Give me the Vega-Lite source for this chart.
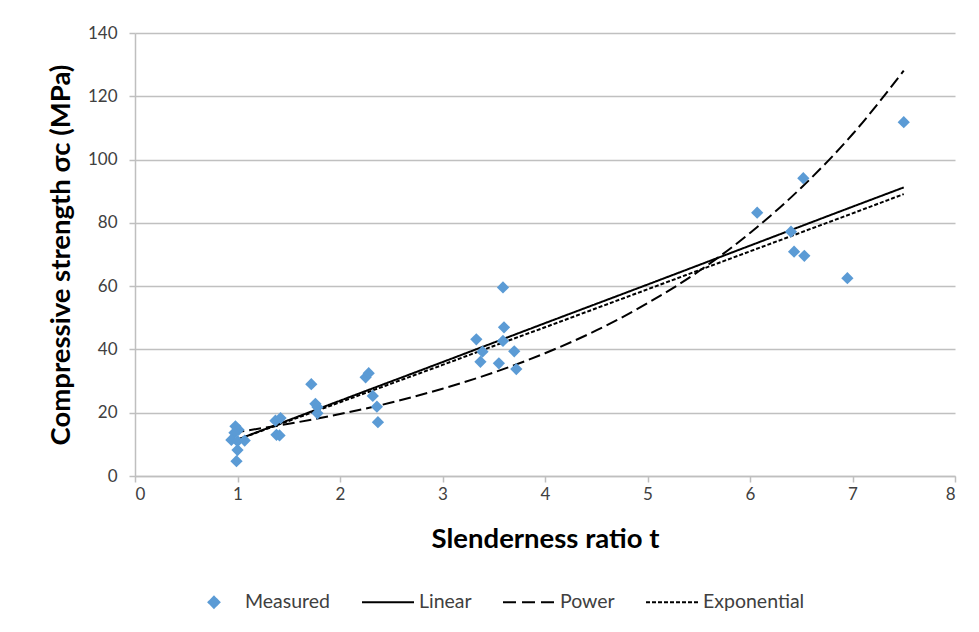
{
  "$schema": "https://vega.github.io/schema/vega-lite/v6.json",
  "autosize": {"type": "none"},
  "width": 820,
  "height": 443,
  "padding": {"left": 135, "top": 33, "right": 24, "bottom": 156},
  "background": "white",
  "config": {
    "font": "Lato",
    "view": {"stroke": null},
    "axis": {
      "labelFont": "Lato",
      "labelFontSize": 17,
      "labelColor": "#404040",
      "labelOverlap": false,
      "titleFont": "Lato",
      "titleFontSize": 27.5,
      "titleFontWeight": "bold",
      "titleColor": "#000000",
      "domainColor": "#bfbfbf",
      "domainWidth": 1.5,
      "tickColor": "#bfbfbf",
      "tickWidth": 1.5,
      "tickSize": 6,
      "gridColor": "#c0c0c0",
      "gridWidth": 1.5
    },
    "legend": {
      "labelFont": "Lato",
      "labelFontSize": 19.5,
      "labelColor": "#404040"
    }
  },
  "datasets": {
    "measured": [
      {"t": 0.98, "sigma": 15.7, "series": "Measured"},
      {"t": 1.01, "sigma": 14.6, "series": "Measured"},
      {"t": 0.97, "sigma": 13.7, "series": "Measured"},
      {"t": 0.94, "sigma": 11.4, "series": "Measured"},
      {"t": 1.0, "sigma": 11.0, "series": "Measured"},
      {"t": 1.07, "sigma": 11.2, "series": "Measured"},
      {"t": 1.0, "sigma": 8.2, "series": "Measured"},
      {"t": 0.99, "sigma": 4.7, "series": "Measured"},
      {"t": 1.37, "sigma": 17.5, "series": "Measured"},
      {"t": 1.42, "sigma": 18.3, "series": "Measured"},
      {"t": 1.38, "sigma": 13.0, "series": "Measured"},
      {"t": 1.41, "sigma": 12.8, "series": "Measured"},
      {"t": 1.72, "sigma": 29.0, "series": "Measured"},
      {"t": 1.76, "sigma": 22.8, "series": "Measured"},
      {"t": 1.78, "sigma": 21.8, "series": "Measured"},
      {"t": 1.78, "sigma": 19.8, "series": "Measured"},
      {"t": 2.25, "sigma": 31.2, "series": "Measured"},
      {"t": 2.28, "sigma": 32.5, "series": "Measured"},
      {"t": 2.32, "sigma": 25.3, "series": "Measured"},
      {"t": 2.36, "sigma": 21.9, "series": "Measured"},
      {"t": 2.37, "sigma": 17.0, "series": "Measured"},
      {"t": 3.33, "sigma": 43.2, "series": "Measured"},
      {"t": 3.37, "sigma": 36.1, "series": "Measured"},
      {"t": 3.39, "sigma": 39.3, "series": "Measured"},
      {"t": 3.55, "sigma": 35.6, "series": "Measured"},
      {"t": 3.59, "sigma": 59.6, "series": "Measured"},
      {"t": 3.6, "sigma": 47.0, "series": "Measured"},
      {"t": 3.59, "sigma": 42.7, "series": "Measured"},
      {"t": 3.7, "sigma": 39.4, "series": "Measured"},
      {"t": 3.72, "sigma": 33.8, "series": "Measured"},
      {"t": 6.07, "sigma": 83.2, "series": "Measured"},
      {"t": 6.4, "sigma": 77.2, "series": "Measured"},
      {"t": 6.43, "sigma": 70.9, "series": "Measured"},
      {"t": 6.52, "sigma": 94.1, "series": "Measured"},
      {"t": 6.53, "sigma": 69.6, "series": "Measured"},
      {"t": 6.95, "sigma": 62.5, "series": "Measured"},
      {"t": 7.5, "sigma": 111.8, "series": "Measured"}
    ],
    "fits": [
      {"t": 0.95, "sigma": 10.9, "series": "Linear"},
      {"t": 2, "sigma": 23.8, "series": "Linear"},
      {"t": 3, "sigma": 36.0, "series": "Linear"},
      {"t": 4, "sigma": 48.3, "series": "Linear"},
      {"t": 5, "sigma": 60.5, "series": "Linear"},
      {"t": 6, "sigma": 72.8, "series": "Linear"},
      {"t": 7, "sigma": 85.1, "series": "Linear"},
      {"t": 7.5, "sigma": 91.2, "series": "Linear"},
      {"t": 0.95, "sigma": 13.7, "series": "Power"},
      {"t": 1.5, "sigma": 16.5, "series": "Power"},
      {"t": 2, "sigma": 19.6, "series": "Power"},
      {"t": 2.5, "sigma": 23.2, "series": "Power"},
      {"t": 3, "sigma": 27.6, "series": "Power"},
      {"t": 3.5, "sigma": 32.7, "series": "Power"},
      {"t": 4, "sigma": 38.8, "series": "Power"},
      {"t": 4.5, "sigma": 46.0, "series": "Power"},
      {"t": 5, "sigma": 54.6, "series": "Power"},
      {"t": 5.5, "sigma": 64.7, "series": "Power"},
      {"t": 6, "sigma": 76.8, "series": "Power"},
      {"t": 6.5, "sigma": 91.1, "series": "Power"},
      {"t": 7, "sigma": 108.0, "series": "Power"},
      {"t": 7.5, "sigma": 128.1, "series": "Power"},
      {"t": 0.95, "sigma": 10.9, "series": "Exponential"},
      {"t": 1.5, "sigma": 17.4, "series": "Exponential"},
      {"t": 2, "sigma": 23.3, "series": "Exponential"},
      {"t": 2.5, "sigma": 29.2, "series": "Exponential"},
      {"t": 3, "sigma": 35.1, "series": "Exponential"},
      {"t": 3.5, "sigma": 41.1, "series": "Exponential"},
      {"t": 4, "sigma": 47.0, "series": "Exponential"},
      {"t": 4.5, "sigma": 53.0, "series": "Exponential"},
      {"t": 5, "sigma": 59.0, "series": "Exponential"},
      {"t": 5.5, "sigma": 65.0, "series": "Exponential"},
      {"t": 6, "sigma": 71.0, "series": "Exponential"},
      {"t": 6.5, "sigma": 77.0, "series": "Exponential"},
      {"t": 7, "sigma": 83.0, "series": "Exponential"},
      {"t": 7.5, "sigma": 89.1, "series": "Exponential"}
    ]
  },
  "encoding": {
    "x": {
      "field": "t", "type": "quantitative",
      "scale": {"domain": [0, 8], "nice": false, "zero": false},
      "axis": {"title": "Slenderness ratio t", "values": [0,1,2,3,4,5,6,7,8], "grid": false, "labelPadding": 4, "titlePadding": 23}
    },
    "y": {
      "field": "sigma", "type": "quantitative",
      "scale": {"domain": [0, 140], "nice": false},
      "axis": {"title": "Compressive strength σc (MPa)", "values": [0,20,40,60,80,100,120,140], "grid": true, "labelPadding": 12, "titlePadding": 12}
    },
    "color": {
      "field": "series", "type": "nominal",
      "scale": {"domain": ["Measured", "Linear", "Power", "Exponential"], "range": ["#5b9bd5", "#000000", "#000000", "#000000"]},
      "legend": {
        "orient": "none",
        "legendX": 52,
        "legendY": 542,
        "direction": "horizontal",
        "title": null,
        "symbolSize": 2704,
        "symbolType": "stroke",
        "labelOffset": 4,
        "columnPadding": 27,
        "encode": {
          "symbols": {
            "update": {
              "shape": {"signal": "datum.value === 'Measured' ? 'diamond' : 'stroke'"},
              "size": {"signal": "datum.value === 'Measured' ? 120 : 2704"},
              "strokeDash": {"signal": "datum.value === 'Power' ? [13,6] : (datum.value === 'Exponential' ? [4,2] : [1,0])"},
              "fill": {"signal": "datum.value === 'Measured' ? '#5b9bd5' : 'transparent'"},
              "stroke": {"signal": "datum.value === 'Measured' ? 'transparent' : '#000000'"},
              "strokeWidth": {"value": 2},
              "opacity": {"value": 1}
            }
          }
        }
      }
    }
  },
  "layer": [
    {
      "data": {"name": "fits"},
      "mark": {"type": "line", "strokeWidth": 2, "interpolate": "monotone"},
      "encoding": {
        "detail": {"field": "series"},
        "strokeDash": {
          "field": "series", "type": "nominal",
          "scale": {"domain": ["Linear", "Power", "Exponential"], "range": [[1, 0], [12, 5], [4, 2]]},
          "legend": null
        }
      }
    },
    {
      "data": {"name": "measured"},
      "mark": {"type": "point", "shape": "diamond", "filled": true, "size": 150, "opacity": 1}
    }
  ]
}
